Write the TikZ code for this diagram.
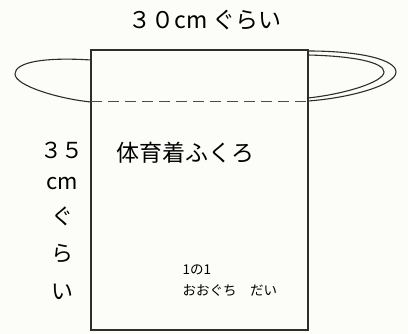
\documentclass[tikz,border=0pt]{standalone}
\usepackage{fontspec}
\setmainfont{Noto Sans CJK JP}
\definecolor{paper}{RGB}{252,252,248}
\definecolor{ink}{RGB}{45,45,45}

\begin{document}
\begin{tikzpicture}[x=1pt, y=-1pt, line width=1.1pt, color=ink]
		%%%%% START %%%%%
		
		\fill[paper] (0, 0) rectangle (408, 334);
		\useasboundingbox (0, 0) rectangle (408, 334);
		
		% bag
		\draw (91, 50) rectangle (308, 330);
		\draw[line width=0.9pt, color=ink!85, dash pattern=on 11pt off 6pt] (91, 101) -- (308, 101);
		
		% left handle
		\draw (91, 60) .. controls (45, 57) and (15, 62) .. (15, 74) .. controls (15, 86) and (60, 99) .. (91, 102);
		
		% right handle
		\draw (308, 51) .. controls (362, 51) and (396, 60) .. (396, 72) .. controls (396, 85) and (350, 98) .. (308, 101);
		\draw (308, 55) .. controls (352, 56) and (384, 62) .. (384, 72) .. controls (384, 82) and (345, 94) .. (308, 98);
		
		% labels
		\node[text=black, font=\fontsize{23}{23}\selectfont] (width) at (205, 20) {３０cm ぐらい};
		\node[text=black, font=\fontsize{22}{22}\selectfont] (h1) at (62, 150) {３５};
		\node[text=black, font=\fontsize{22}{22}\selectfont] (h2) at (62, 184) {cm};
		\node[text=black, font=\fontsize{22}{22}\selectfont] (h3) at (62, 216) {ぐ};
		\node[text=black, font=\fontsize{22}{22}\selectfont] (h4) at (62, 254) {ら};
		\node[text=black, font=\fontsize{22}{22}\selectfont] (h5) at (62, 292) {い};
		
		\node[text=black, font=\fontsize{23}{23}\selectfont, anchor=west, inner sep=0pt] (title) at (116, 153) {体育着ふくろ};
		\node[text=black, font=\fontsize{13.5}{13.5}\selectfont, anchor=west, inner sep=0pt] (cls) at (182, 270) {1の1};
		\node[text=black, font=\fontsize{13.5}{13.5}\selectfont, anchor=west, inner sep=0pt] (owner) at (182, 291) {おおぐち　だい};
		
		%%%%% END %%%%%
\end{tikzpicture}
\end{document}
